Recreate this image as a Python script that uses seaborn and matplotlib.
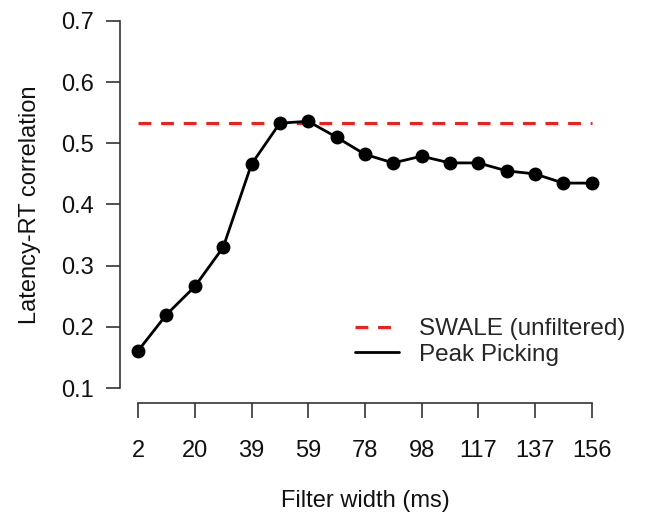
import matplotlib
matplotlib.use("Agg")
import matplotlib.pyplot as plt
import seaborn as sns
import pandas as pd
from matplotlib.lines import Line2D

filter_width_labels = ["2", "20", "39", "59", "78", "98", "117", "137", "156"]
point_index = list(range(1, 18))
peak_picking = [0.161, 0.220, 0.266, 0.330, 0.466, 0.533, 0.536, 0.510, 0.482,
                0.468, 0.479, 0.468, 0.468, 0.455, 0.450, 0.435, 0.435]
swale_unfiltered = 0.533
y_ticks = [0.1, 0.2, 0.3, 0.4, 0.5, 0.6, 0.7]

sns.set_theme(style="ticks")
plt.rcParams["font.family"] = ["Liberation Sans", "DejaVu Sans"]

df = pd.DataFrame({"idx": point_index, "corr": peak_picking})

fig = plt.figure(figsize=(6.48, 5.17), dpi=100)
ax = fig.add_axes([0.1852, 0.2211, 0.941 - 0.1852, 0.9878 - 0.2211])

ax.plot([point_index[0], point_index[-1]], [swale_unfiltered, swale_unfiltered],
        color="#ee2020", lw=2.2, dashes=(4.2, 3.2), zorder=1)
sns.lineplot(data=df, x="idx", y="corr", ax=ax, color="black", lw=2.0,
             marker="o", markersize=10, markeredgewidth=0, zorder=2)

ax.set_xlim(0.36, 17.64)
ax.set_ylim(0.076, 0.724)
ax.set_xticks(point_index[::2])
ax.set_xticklabels(filter_width_labels)
ax.set_yticks(y_ticks)
ax.set_yticklabels([f"{v:.1f}" for v in y_ticks])

for s in ["top", "right"]:
    ax.spines[s].set_visible(False)
ax.spines["left"].set_bounds(0.1, 0.7)
ax.spines["bottom"].set_bounds(1, 17)
for s in ["left", "bottom"]:
    ax.spines[s].set_linewidth(1.2)
    ax.spines[s].set_color("#333333")

ax.tick_params(axis="y", length=10, width=1.2, pad=9, labelsize=17, colors="#333333")
ax.tick_params(axis="x", length=10.5, width=1.2, pad=16.5, labelsize=17, colors="#333333")
for lab in ax.get_xticklabels() + ax.get_yticklabels():
    lab.set_color("#111111")

ax.set_xlabel("Filter width (ms)", fontsize=17, labelpad=20, color="#111111")
ax.set_ylabel("Latency-RT correlation", fontsize=17, labelpad=14, color="#111111")

handles = [
    Line2D([], [], color="#ee2020", lw=2.2, dashes=(4.2, 3.2)),
    Line2D([], [], color="black", lw=2.0),
]
ax.legend(handles, ["SWALE (unfiltered)", "Peak Picking"], loc="lower right",
          bbox_to_anchor=(1.077, 0.038), frameon=False, fontsize=17.5,
          handlelength=1.8, handletextpad=0.85, labelspacing=0.15)

fig.savefig("out.png", dpi=100)
